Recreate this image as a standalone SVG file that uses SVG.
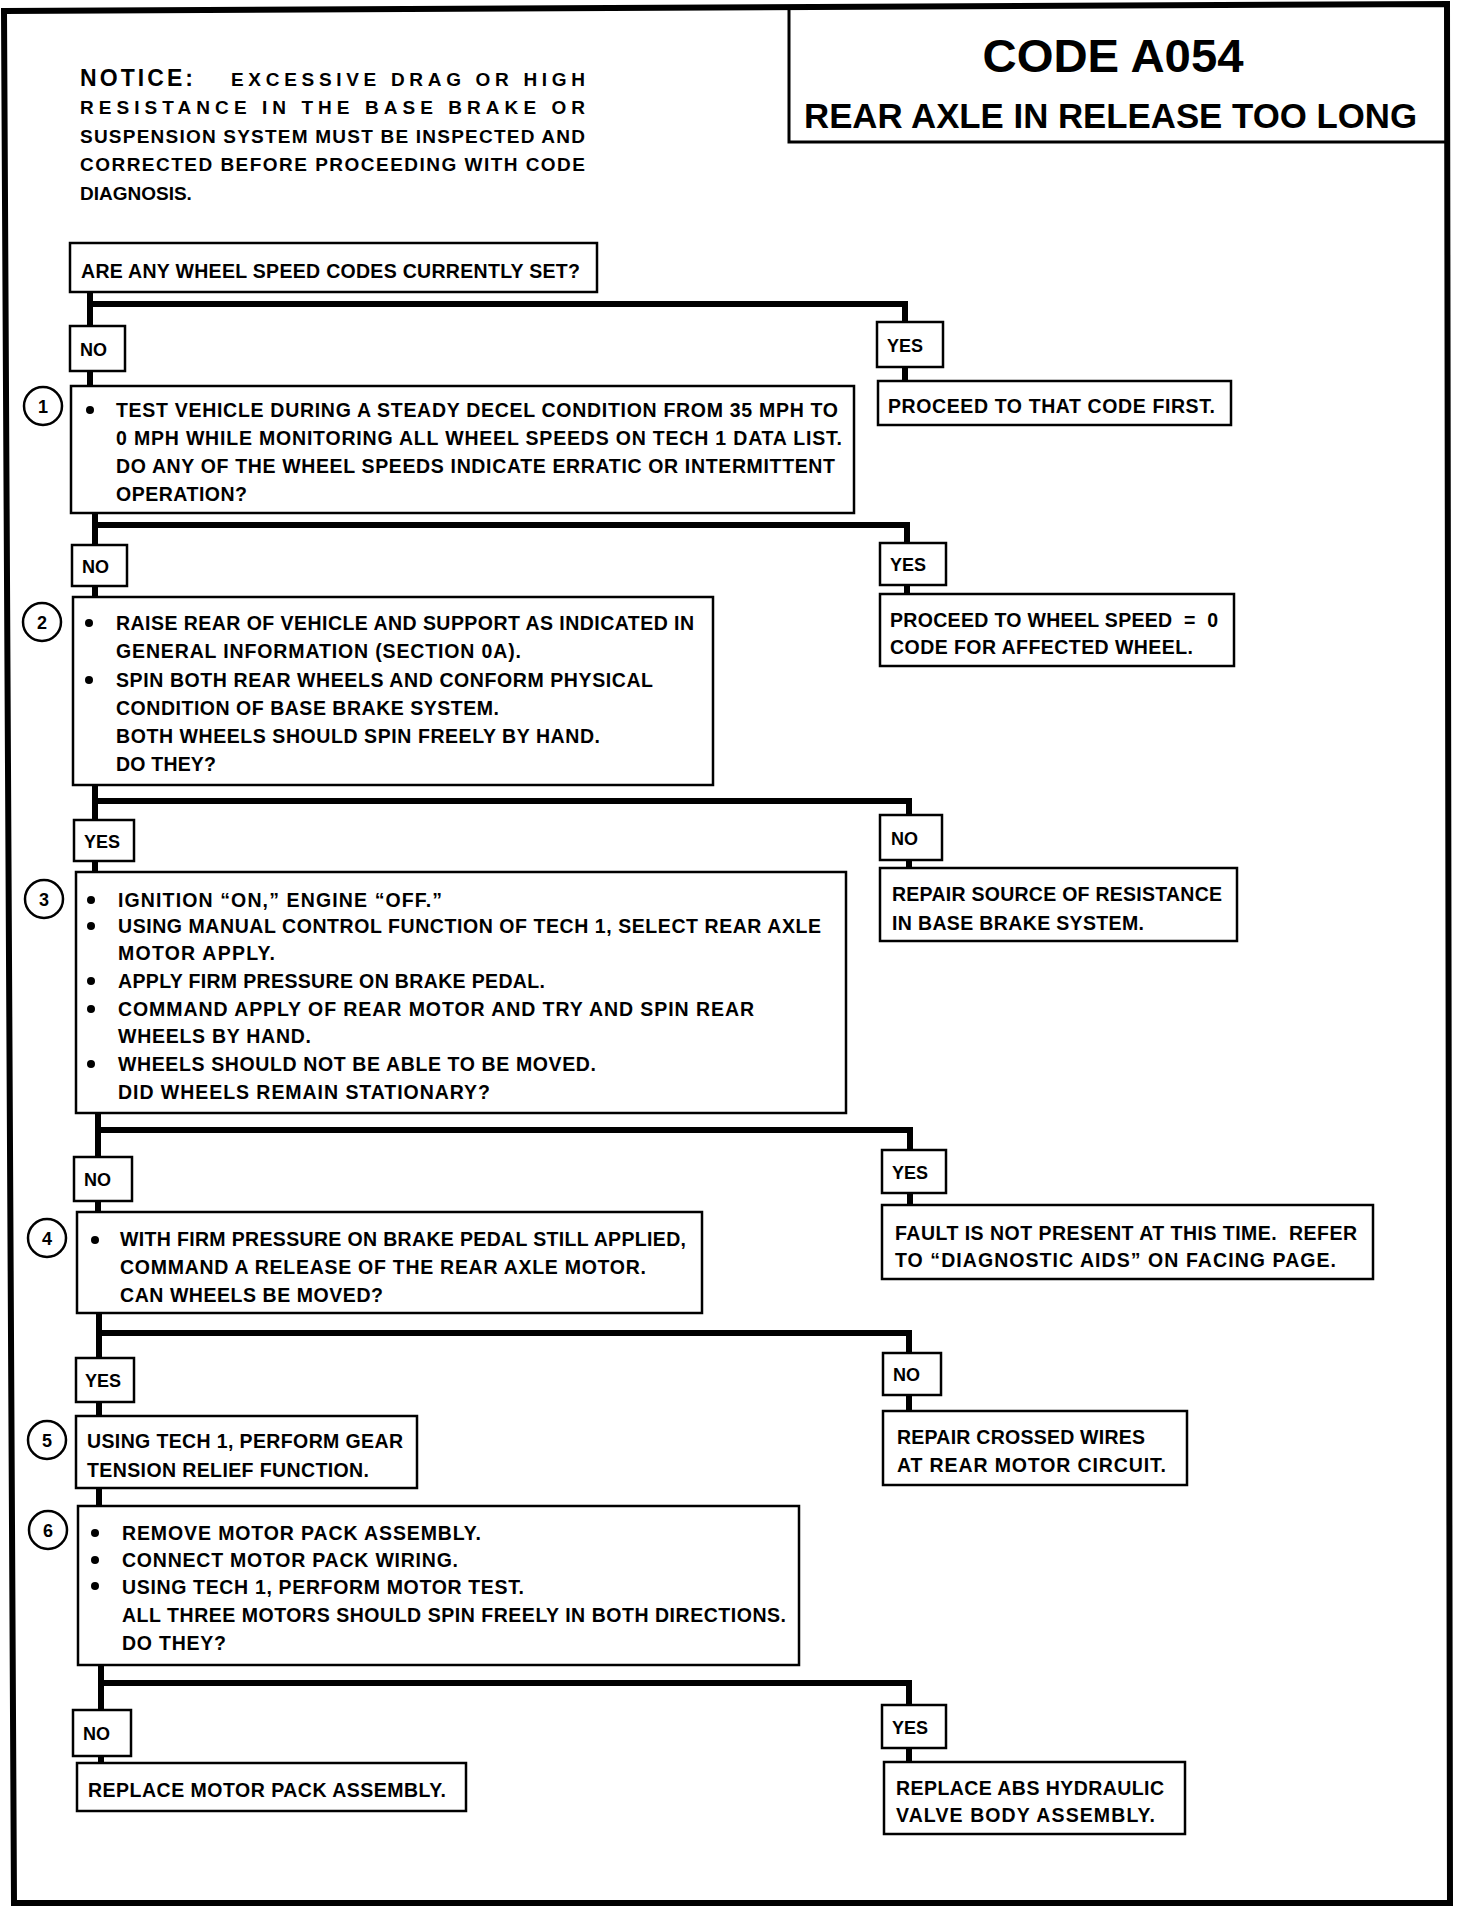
<svg xmlns="http://www.w3.org/2000/svg" width="1472" height="1906" viewBox="0 0 1472 1906">
<style>
.box{fill:#fff;stroke:#000;stroke-width:2.5}
.t{font-family:"Liberation Sans",Arial,sans-serif;font-weight:bold;font-size:19.5px;fill:#000}
.pre{white-space:pre}
.lb{font-family:"Liberation Sans",Arial,sans-serif;font-weight:bold;font-size:18px;fill:#000}
.num{font-family:"Liberation Sans",Arial,sans-serif;font-weight:bold;font-size:18px;fill:#000;text-anchor:middle}
.circ{fill:#fff;stroke:#000;stroke-width:2.5}
.conn{fill:none;stroke:#000;stroke-width:6;stroke-linejoin:miter}
.hd{font-family:"Liberation Sans",Arial,sans-serif;font-weight:bold;fill:#000}
</style>
<rect width="1472" height="1906" fill="#fff"/>
<g id="frame">
<polygon points="4,11 1447,4 1450,1903 14,1903" fill="none" stroke="#000" stroke-width="6"/>
</g>
<g id="title">
<path d="M789 7 V142 H1448" fill="none" stroke="#000" stroke-width="3"/>
<text class="hd" x="1113" y="72" font-size="47" text-anchor="middle" textLength="261" lengthAdjust="spacingAndGlyphs">CODE A054</text>
<text class="hd" x="804" y="128" font-size="34.5" textLength="613" lengthAdjust="spacingAndGlyphs">REAR AXLE IN RELEASE TOO LONG</text>
</g>
<g id="notice">
<text class="hd" x="80" y="86" font-size="23" textLength="113">NOTICE:</text>
<text class="hd" x="231" y="86" font-size="19" textLength="354">EXCESSIVE DRAG OR HIGH</text>
<text class="hd" x="80" y="114" font-size="19" textLength="505">RESISTANCE IN THE BASE BRAKE OR</text>
<text class="hd" x="80" y="143" font-size="19" textLength="505">SUSPENSION SYSTEM MUST BE INSPECTED AND</text>
<text class="hd" x="80" y="171" font-size="19" textLength="505">CORRECTED BEFORE PROCEEDING WITH CODE</text>
<text class="hd" x="80" y="200" font-size="19">DIAGNOSIS.</text>
</g>
<g id="connectors">
<path class="conn" d="M90 291 V326 M90 304 H905 V322 M90 371 V387 M905 367 V381"/>
<path class="conn" d="M95 512 V545 M95 525 H907 V543 M95 586 V596 M907 585 V594"/>
<path class="conn" d="M95 784 V820 M95 801 H909 V815 M95 861 V872 M909 860 V868"/>
<path class="conn" d="M98 1113 V1157 M98 1130 H910 V1150 M98 1201 V1212 M910 1193 V1205"/>
<path class="conn" d="M99 1313 V1358 M99 1333 H909 V1353 M99 1402 V1416 M909 1395 V1411 M99 1488 V1506"/>
<path class="conn" d="M101 1665 V1710 M101 1683 H909 V1705 M101 1756 V1763 M909 1748 V1762"/>
</g>
<g id="q0">
<rect class="box" x="70" y="243" width="527" height="49"/>
<text class="t" x="81" y="278" textLength="499">ARE ANY WHEEL SPEED CODES CURRENTLY SET?</text>
</g>
<g id="l1no"><rect class="box" x="70" y="326" width="55" height="45"/><text class="lb" x="80" y="356">NO</text></g>
<g id="l1yes"><rect class="box" x="877" y="322" width="66" height="45"/><text class="lb" x="887" y="352">YES</text></g>
<g id="r1">
<rect class="box" x="878" y="381" width="353" height="44"/>
<text class="t" x="888" y="413" textLength="327">PROCEED TO THAT CODE FIRST.</text>
</g>
<g id="s1">
<rect class="box" x="71" y="386" width="783" height="127"/>
<circle class="circ" cx="43" cy="406" r="19"/><text class="num" x="43" y="413">1</text>
<circle cx="90" cy="410" r="4"/>
<text class="t" x="116" y="417" textLength="722">TEST VEHICLE DURING A STEADY DECEL CONDITION FROM 35 MPH TO</text>
<text class="t" x="116" y="445" textLength="726">0 MPH WHILE MONITORING ALL WHEEL SPEEDS ON TECH 1 DATA LIST.</text>
<text class="t" x="116" y="473" textLength="719">DO ANY OF THE WHEEL SPEEDS INDICATE ERRATIC OR INTERMITTENT</text>
<text class="t" x="116" y="501" textLength="131">OPERATION?</text>
</g>
<g id="l2no"><rect class="box" x="72" y="545" width="55" height="41"/><text class="lb" x="82" y="573">NO</text></g>
<g id="l2yes"><rect class="box" x="880" y="543" width="66" height="42"/><text class="lb" x="890" y="571">YES</text></g>
<g id="r2">
<rect class="box" x="880" y="594" width="354" height="72"/>
<text class="t pre" x="890" y="627" textLength="328">PROCEED TO WHEEL SPEED  =  0</text>
<text class="t" x="890" y="654" textLength="303">CODE FOR AFFECTED WHEEL.</text>
</g>
<g id="s2">
<rect class="box" x="73" y="597" width="640" height="188"/>
<circle class="circ" cx="42" cy="622" r="19"/><text class="num" x="42" y="629">2</text>
<circle cx="89" cy="623" r="4"/><circle cx="89" cy="680" r="4"/>
<text class="t" x="116" y="630" textLength="578">RAISE REAR OF VEHICLE AND SUPPORT AS INDICATED IN</text>
<text class="t" x="116" y="658" textLength="405">GENERAL INFORMATION (SECTION 0A).</text>
<text class="t" x="116" y="687" textLength="537">SPIN BOTH REAR WHEELS AND CONFORM PHYSICAL</text>
<text class="t" x="116" y="715" textLength="383">CONDITION OF BASE BRAKE SYSTEM.</text>
<text class="t" x="116" y="743" textLength="484">BOTH WHEELS SHOULD SPIN FREELY BY HAND.</text>
<text class="t" x="116" y="771" textLength="100">DO THEY?</text>
</g>
<g id="l3yes"><rect class="box" x="74" y="820" width="60" height="41"/><text class="lb" x="84" y="848">YES</text></g>
<g id="l3no"><rect class="box" x="880" y="815" width="62" height="45"/><text class="lb" x="891" y="845">NO</text></g>
<g id="r3">
<rect class="box" x="880" y="868" width="357" height="73"/>
<text class="t" x="892" y="901" textLength="330">REPAIR SOURCE OF RESISTANCE</text>
<text class="t" x="892" y="930" textLength="252">IN BASE BRAKE SYSTEM.</text>
</g>
<g id="s3">
<rect class="box" x="76" y="872" width="770" height="241"/>
<circle class="circ" cx="44" cy="899" r="19"/><text class="num" x="44" y="906">3</text>
<circle cx="91" cy="900" r="4"/><circle cx="91" cy="926" r="4"/><circle cx="91" cy="981" r="4"/><circle cx="91" cy="1009" r="4"/><circle cx="91" cy="1064" r="4"/>
<text class="t" x="118" y="907" textLength="324">IGNITION “ON,” ENGINE “OFF.”</text>
<text class="t" x="118" y="933" textLength="703">USING MANUAL CONTROL FUNCTION OF TECH 1, SELECT REAR AXLE</text>
<text class="t" x="118" y="960" textLength="157">MOTOR APPLY.</text>
<text class="t" x="118" y="988" textLength="427">APPLY FIRM PRESSURE ON BRAKE PEDAL.</text>
<text class="t" x="118" y="1016" textLength="636">COMMAND APPLY OF REAR MOTOR AND TRY AND SPIN REAR</text>
<text class="t" x="118" y="1043" textLength="193">WHEELS BY HAND.</text>
<text class="t" x="118" y="1071" textLength="478">WHEELS SHOULD NOT BE ABLE TO BE MOVED.</text>
<text class="t" x="118" y="1099" textLength="372">DID WHEELS REMAIN STATIONARY?</text>
</g>
<g id="l4no"><rect class="box" x="74" y="1157" width="58" height="44"/><text class="lb" x="84" y="1186">NO</text></g>
<g id="l4yes"><rect class="box" x="882" y="1150" width="64" height="43"/><text class="lb" x="892" y="1179">YES</text></g>
<g id="r4">
<rect class="box" x="882" y="1205" width="491" height="74"/>
<text class="t pre" x="895" y="1240" textLength="462">FAULT IS NOT PRESENT AT THIS TIME.  REFER</text>
<text class="t" x="895" y="1267" textLength="441">TO “DIAGNOSTIC AIDS” ON FACING PAGE.</text>
</g>
<g id="s4">
<rect class="box" x="77" y="1212" width="625" height="101"/>
<circle class="circ" cx="47" cy="1238" r="19"/><text class="num" x="47" y="1245">4</text>
<circle cx="95" cy="1240" r="4"/>
<text class="t" x="120" y="1246" textLength="566">WITH FIRM PRESSURE ON BRAKE PEDAL STILL APPLIED,</text>
<text class="t" x="120" y="1274" textLength="526">COMMAND A RELEASE OF THE REAR AXLE MOTOR.</text>
<text class="t" x="120" y="1302" textLength="263">CAN WHEELS BE MOVED?</text>
</g>
<g id="l5yes"><rect class="box" x="76" y="1358" width="58" height="44"/><text class="lb" x="85" y="1387">YES</text></g>
<g id="l5no"><rect class="box" x="883" y="1353" width="58" height="42"/><text class="lb" x="893" y="1381">NO</text></g>
<g id="r5">
<rect class="box" x="883" y="1411" width="304" height="74"/>
<text class="t" x="897" y="1444" textLength="248">REPAIR CROSSED WIRES</text>
<text class="t" x="897" y="1472" textLength="269">AT REAR MOTOR CIRCUIT.</text>
</g>
<g id="s5">
<rect class="box" x="76" y="1416" width="341" height="72"/>
<circle class="circ" cx="47" cy="1440" r="19"/><text class="num" x="47" y="1447">5</text>
<text class="t" x="87" y="1448" textLength="316">USING TECH 1, PERFORM GEAR</text>
<text class="t" x="87" y="1477" textLength="282">TENSION RELIEF FUNCTION.</text>
</g>
<g id="s6">
<rect class="box" x="78" y="1506" width="721" height="159"/>
<circle class="circ" cx="48" cy="1530" r="19"/><text class="num" x="48" y="1537">6</text>
<circle cx="95" cy="1533" r="4"/><circle cx="95" cy="1560" r="4"/><circle cx="95" cy="1586" r="4"/>
<text class="t" x="122" y="1540" textLength="359">REMOVE MOTOR PACK ASSEMBLY.</text>
<text class="t" x="122" y="1567" textLength="336">CONNECT MOTOR PACK WIRING.</text>
<text class="t" x="122" y="1594" textLength="402">USING TECH 1, PERFORM MOTOR TEST.</text>
<text class="t" x="122" y="1622" textLength="664">ALL THREE MOTORS SHOULD SPIN FREELY IN BOTH DIRECTIONS.</text>
<text class="t" x="122" y="1650" textLength="104">DO THEY?</text>
</g>
<g id="l6no"><rect class="box" x="73" y="1710" width="58" height="46"/><text class="lb" x="83" y="1740">NO</text></g>
<g id="l6yes"><rect class="box" x="882" y="1705" width="64" height="43"/><text class="lb" x="892" y="1734">YES</text></g>
<g id="r6no">
<rect class="box" x="77" y="1763" width="389" height="48"/>
<text class="t" x="88" y="1797" textLength="358">REPLACE MOTOR PACK ASSEMBLY.</text>
</g>
<g id="r6yes">
<rect class="box" x="884" y="1762" width="301" height="72"/>
<text class="t" x="896" y="1795" textLength="268">REPLACE ABS HYDRAULIC</text>
<text class="t" x="896" y="1822" textLength="259">VALVE BODY ASSEMBLY.</text>
</g>
</svg>
